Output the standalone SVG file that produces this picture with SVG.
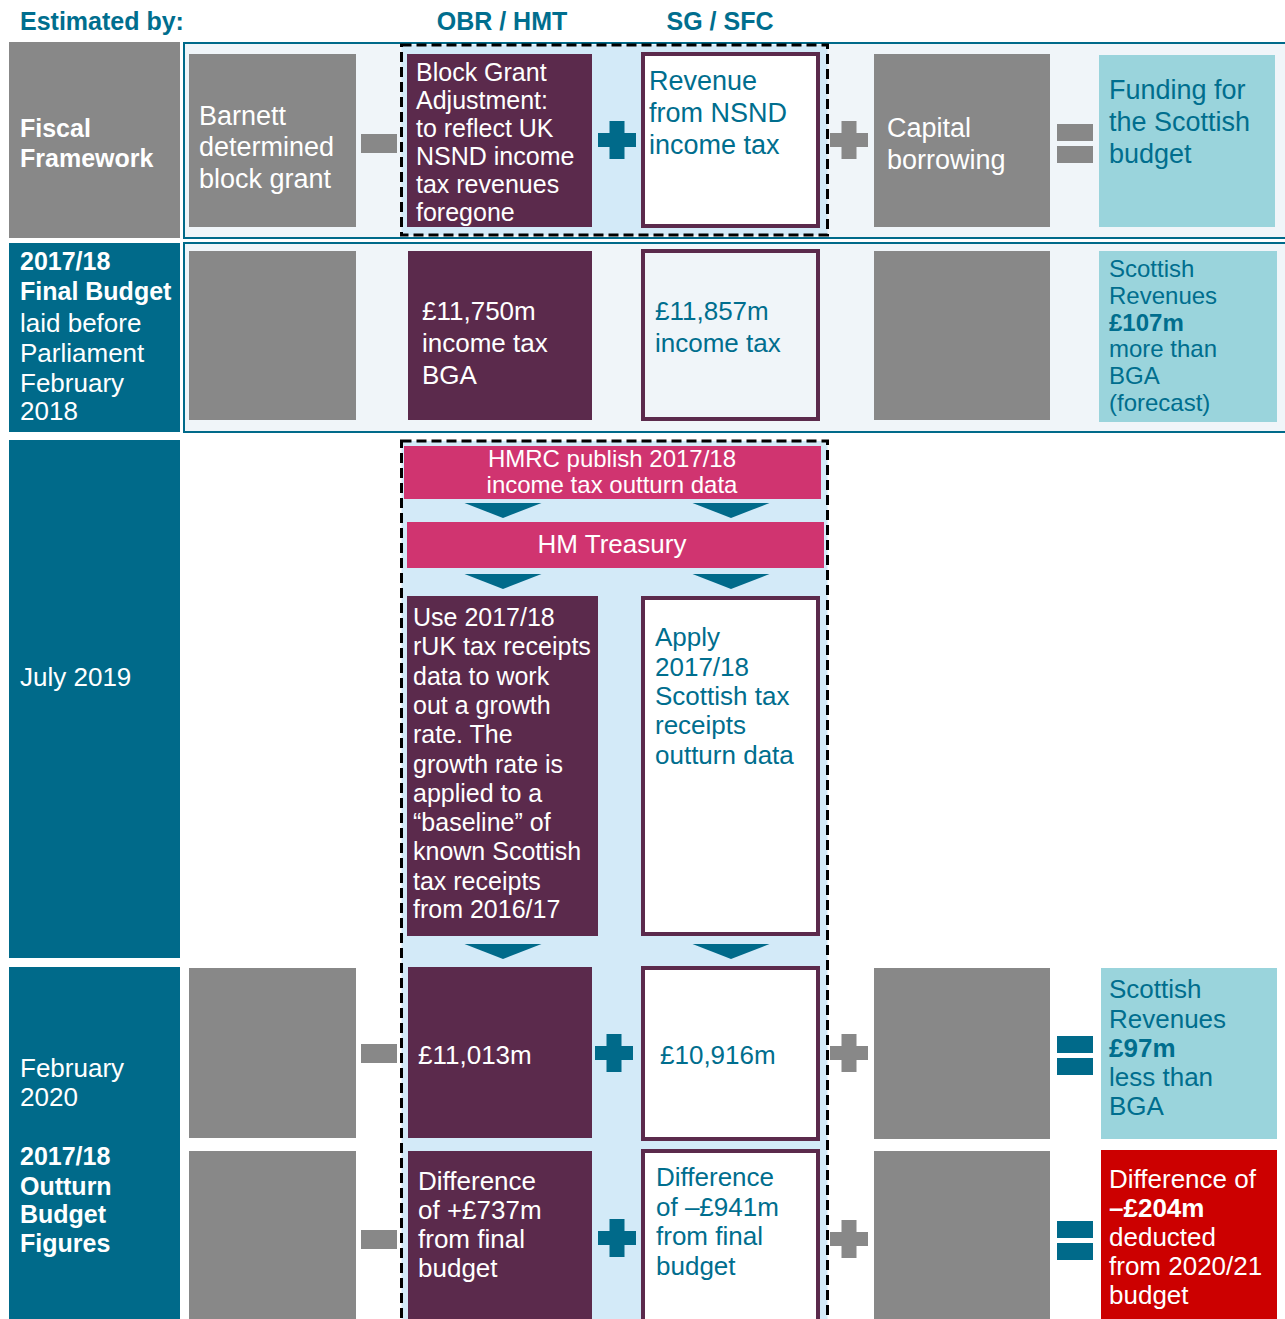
<svg xmlns="http://www.w3.org/2000/svg" width="1285" height="1319" viewBox="0 0 1285 1319">
<style>
text{font-family:"Liberation Sans",Arial,sans-serif;}
.w{fill:#ffffff;font-size:26px;}
.wb{fill:#ffffff;font-size:25px;font-weight:bold;}
.t{fill:#006E8E;font-size:26px;}
.tb{fill:#006E8E;font-weight:bold;}
.hd{fill:#006E8E;font-size:25px;font-weight:bold;}
.grey{fill:#888888;}
.teal{fill:#006A8A;}
.purple{fill:#5B2A4C;}
.pink{fill:#D03470;}
.lt{fill:#9AD4DC;}
.red{fill:#CC0000;}
.band{fill:#F0F5F9;stroke:#006A8A;stroke-width:2;}
.dash{fill:#D3EAF8;stroke:#000000;stroke-width:3;stroke-dasharray:10 5;}
.wbox{fill:#ffffff;stroke:#5B2A4C;stroke-width:4;}
.arrow{fill:#006A8A;}
</style>
<defs>
<path id="plus" d="M-7.5,-19 H7.5 V-7 H19 V7 H7.5 V19 H-7.5 V7 H-19 V-7 H-7.5 Z"/>
<polygon id="arr" points="-38.5,0 38.5,0 0,15"/>
<g id="minus"><rect x="0" y="0" width="36" height="19"/></g>
<g id="eq"><rect x="0" y="0" width="36" height="17"/><rect x="0" y="22" width="36" height="17"/></g>
</defs>

<!-- headers -->
<g id="headers">
<text class="hd" x="20" y="30">Estimated by:</text>
<text class="hd" x="502" y="30" text-anchor="middle">OBR / HMT</text>
<text class="hd" x="720" y="30" text-anchor="middle">SG / SFC</text>
</g>

<!-- backgrounds -->
<g id="backgrounds">
<rect class="band" x="184" y="43" width="1110" height="195"/>
<rect class="band" x="184" y="243" width="1110" height="189"/>
<rect class="dash" x="401.5" y="45" width="426" height="190"/>
<rect class="dash" x="401.5" y="441" width="426" height="890"/>
</g>

<!-- left labels -->
<g id="label-fiscal">
<rect class="grey" x="9" y="42" width="171" height="196"/>
<text class="wb" x="20" y="137">Fiscal</text>
<text class="wb" x="20" y="167">Framework</text>
</g>
<g id="label-final">
<rect class="teal" x="9" y="243" width="171" height="189"/>
<text class="wb" x="20" y="270">2017/18</text>
<text class="wb" x="20" y="300">Final Budget</text>
<text class="w" x="20" y="332">laid before</text>
<text class="w" x="20" y="362">Parliament</text>
<text class="w" x="20" y="392">February</text>
<text class="w" x="20" y="420">2018</text>
</g>
<g id="label-july">
<rect class="teal" x="9" y="440" width="171" height="518"/>
<text class="w" x="20" y="686">July 2019</text>
</g>
<g id="label-feb2020">
<rect class="teal" x="9" y="967" width="171" height="352"/>
<text class="w" x="20" y="1077">February</text>
<text class="w" x="20" y="1106">2020</text>
<text class="wb" x="20" y="1165">2017/18</text>
<text class="wb" x="20" y="1195">Outturn</text>
<text class="wb" x="20" y="1223">Budget</text>
<text class="wb" x="20" y="1252">Figures</text>
</g>

<!-- row 1 -->
<g id="barnett">
<rect class="grey" x="189" y="54" width="167" height="173"/>
<text class="w" style="font-size:27px" x="199" y="125">Barnett</text>
<text class="w" style="font-size:27px" x="199" y="156">determined</text>
<text class="w" style="font-size:27px" x="199" y="188">block grant</text>
</g>
<g id="bga">
<rect class="purple" x="407" y="54" width="185" height="173"/>
<text class="w" style="font-size:25px" x="416" y="81">Block Grant</text>
<text class="w" style="font-size:25px" x="416" y="109">Adjustment:</text>
<text class="w" style="font-size:25px" x="416" y="137">to reflect UK</text>
<text class="w" style="font-size:25px" x="416" y="165">NSND income</text>
<text class="w" style="font-size:25px" x="416" y="193">tax revenues</text>
<text class="w" style="font-size:25px" x="416" y="221">foregone</text>
</g>
<g id="revenue">
<rect class="wbox" x="643" y="54" width="175" height="172"/>
<text class="t" style="font-size:27px" x="649" y="90">Revenue</text>
<text class="t" style="font-size:27px" x="649" y="122">from NSND</text>
<text class="t" style="font-size:27px" x="649" y="154">income tax</text>
</g>
<g id="capital">
<rect class="grey" x="874" y="54" width="176" height="173"/>
<text class="w" style="font-size:27px" x="887" y="137">Capital</text>
<text class="w" style="font-size:27px" x="887" y="169">borrowing</text>
</g>
<g id="funding">
<rect class="lt" x="1099" y="55" width="176" height="172"/>
<text class="t" style="font-size:27px" x="1109" y="99">Funding for</text>
<text class="t" style="font-size:27px" x="1109" y="131">the Scottish</text>
<text class="t" style="font-size:27px" x="1109" y="163">budget</text>
</g>

<!-- row 2 -->
<g id="barnett-2018">
<rect class="grey" x="189" y="251" width="167" height="169"/>
</g>
<g id="bga-2018">
<rect class="purple" x="408" y="251" width="184" height="169"/>
<text class="w" x="422" y="320">£11,750m</text>
<text class="w" x="422" y="352">income tax</text>
<text class="w" x="422" y="384">BGA</text>
</g>
<g id="revenue-2018">
<rect class="wbox" x="643" y="251" width="175" height="168" style="fill:#F0F5F9"/>
<text class="t" x="655" y="320">£11,857m</text>
<text class="t" x="655" y="352">income tax</text>
</g>
<g id="capital-2018">
<rect class="grey" x="874" y="251" width="176" height="169"/>
</g>
<g id="result-2018">
<rect class="lt" x="1099" y="251" width="178" height="171"/>
<text class="t" style="font-size:24px" x="1109" y="277">Scottish</text>
<text class="t" style="font-size:24px" x="1109" y="304">Revenues</text>
<text class="tb" style="font-size:24px" x="1109" y="331">£107m</text>
<text class="t" style="font-size:24px" x="1109" y="357">more than</text>
<text class="t" style="font-size:24px" x="1109" y="384">BGA</text>
<text class="t" style="font-size:24px" x="1109" y="411">(forecast)</text>
</g>

<!-- row 3 -->
<g id="hmrc">
<rect class="pink" x="404" y="446" width="417" height="53"/>
<text class="w" style="font-size:24px" x="612" y="467" text-anchor="middle">HMRC publish 2017/18</text>
<text class="w" style="font-size:24px" x="612" y="493" text-anchor="middle">income tax outturn data</text>
</g>
<g id="hm-treasury">
<rect class="pink" x="407" y="522" width="417" height="46"/>
<text class="w" x="612" y="553" text-anchor="middle">HM Treasury</text>
</g>
<g id="use-rUK">
<rect class="purple" x="407" y="596" width="191" height="340"/>
<text class="w" style="font-size:25px" x="413" y="626">Use 2017/18</text>
<text class="w" style="font-size:25px" x="413" y="655">rUK tax receipts</text>
<text class="w" style="font-size:25px" x="413" y="685">data to work</text>
<text class="w" style="font-size:25px" x="413" y="714">out a growth</text>
<text class="w" style="font-size:25px" x="413" y="743">rate. The</text>
<text class="w" style="font-size:25px" x="413" y="773">growth rate is</text>
<text class="w" style="font-size:25px" x="413" y="802">applied to a</text>
<text class="w" style="font-size:25px" x="413" y="831">“baseline” of</text>
<text class="w" style="font-size:25px" x="413" y="860">known Scottish</text>
<text class="w" style="font-size:25px" x="413" y="890">tax receipts</text>
<text class="w" style="font-size:25px" x="413" y="918">from 2016/17</text>
</g>
<g id="apply-scottish">
<rect class="wbox" x="643" y="598" width="175" height="336"/>
<text class="t" x="655" y="646">Apply</text>
<text class="t" x="655" y="676">2017/18</text>
<text class="t" x="655" y="705">Scottish tax</text>
<text class="t" x="655" y="734">receipts</text>
<text class="t" x="655" y="764">outturn data</text>
</g>

<!-- row 4 -->
<g id="barnett-2020">
<rect class="grey" x="189" y="968" width="167" height="170"/>
</g>
<g id="bga-2020">
<rect class="purple" x="408" y="967" width="184" height="171"/>
<text class="w" x="418" y="1064">£11,013m</text>
</g>
<g id="revenue-2020">
<rect class="wbox" x="643" y="968" width="175" height="171"/>
<text class="t" x="660" y="1064">£10,916m</text>
</g>
<g id="capital-2020">
<rect class="grey" x="874" y="968" width="176" height="171"/>
</g>
<g id="result-2020">
<rect class="lt" x="1101" y="968" width="176" height="171"/>
<text class="t" x="1109" y="998">Scottish</text>
<text class="t" x="1109" y="1028">Revenues</text>
<text class="tb" style="font-size:26px" x="1109" y="1057">£97m</text>
<text class="t" x="1109" y="1086">less than</text>
<text class="t" x="1109" y="1115">BGA</text>
</g>

<!-- row 5 -->
<g id="barnett-diff">
<rect class="grey" x="189" y="1151" width="167" height="168"/>
</g>
<g id="bga-diff">
<rect class="purple" x="408" y="1151" width="184" height="168"/>
<text class="w" x="418" y="1190">Difference</text>
<text class="w" x="418" y="1219">of +£737m</text>
<text class="w" x="418" y="1248">from final</text>
<text class="w" x="418" y="1277">budget</text>
</g>
<g id="revenue-diff">
<rect class="wbox" x="643" y="1151" width="175" height="175"/>
<text class="t" x="656" y="1186">Difference</text>
<text class="t" x="656" y="1216">of –£941m</text>
<text class="t" x="656" y="1245">from final</text>
<text class="t" x="656" y="1275">budget</text>
</g>
<g id="capital-diff">
<rect class="grey" x="874" y="1151" width="176" height="168"/>
</g>
<g id="result-diff">
<rect class="red" x="1101" y="1150" width="176" height="169"/>
<text class="w" x="1109" y="1188">Difference of</text>
<text class="w" style="font-weight:bold" x="1109" y="1217">–£204m</text>
<text class="w" x="1109" y="1246">deducted</text>
<text class="w" x="1109" y="1275">from 2020/21</text>
<text class="w" x="1109" y="1304">budget</text>
</g>

<!-- operators -->
<g id="operators">
<use href="#minus" class="grey" x="361" y="134"/>
<use href="#plus" class="teal" x="617" y="140"/>
<use href="#plus" class="grey" x="849" y="140"/>
<use href="#eq" class="grey" x="1057" y="124"/>
<use href="#minus" class="grey" x="361" y="1044"/>
<use href="#plus" class="teal" x="614" y="1053"/>
<use href="#plus" class="grey" x="849" y="1053"/>
<use href="#eq" class="teal" x="1057" y="1036"/>
<use href="#minus" class="grey" x="361" y="1230"/>
<use href="#plus" class="teal" x="617" y="1238"/>
<use href="#plus" class="grey" x="849" y="1239"/>
<use href="#eq" class="teal" x="1057" y="1221"/>
</g>

<!-- connectors -->
<g id="connectors">
<use href="#arr" class="arrow" x="503" y="503"/>
<use href="#arr" class="arrow" x="731" y="503"/>
<use href="#arr" class="arrow" x="503" y="574"/>
<use href="#arr" class="arrow" x="731" y="574"/>
<use href="#arr" class="arrow" x="503" y="944"/>
<use href="#arr" class="arrow" x="731" y="944"/>
</g>
</svg>
